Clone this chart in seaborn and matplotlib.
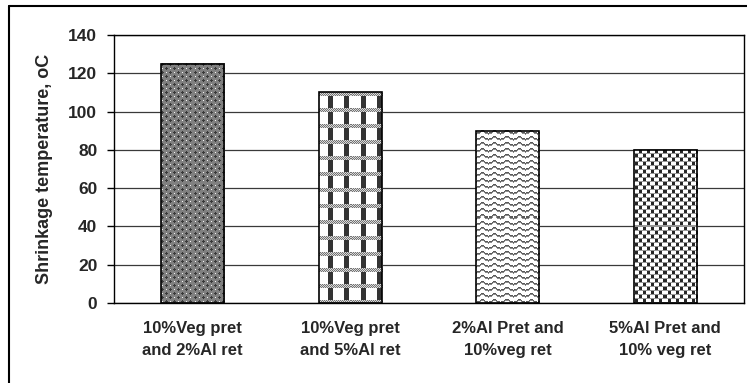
import matplotlib
matplotlib.use("Agg")
import matplotlib.pyplot as plt
from matplotlib.lines import Line2D
import seaborn as sns
import numpy as np

# data
categories = ["10%Veg pret\nand 2%Al ret", "10%Veg pret\nand 5%Al ret",
              "2%Al Pret and\n10%veg ret", "5%Al Pret and\n10% veg ret"]
temperatures = [125, 110, 90, 80]
y_ticks = [0, 20, 40, 60, 80, 100, 120, 140]


def tile_cross():
    t = np.full((8, 8), 0.5)
    for cy, cx in [(1, 1), (5, 5)]:
        t[cy, cx - 1:cx + 2] = 0.22
        t[cy - 1:cy + 2, cx] = 0.22
    t[1, 5] = 0.95
    t[5, 1] = 0.95
    return t


def tile_plaid():
    t = np.ones((16, 16))
    t[:, 9:14] = 0.2
    i, j = np.indices((4, 16))
    t[0:4, :] = np.where((i + j) % 2, 0.45, 0.85)
    return t


def tile_wave():
    t = np.ones((6, 12))
    for x in range(12):
        y = int(round(abs(x - 6) / 2.0))
        t[y, x] = 0.35
        t[min(y + 1, 5), x] = 0.55
    return t


def tile_spheres():
    t = np.ones((8, 8))
    t[0, :] = 0.6
    t[4, :] = 0.6
    t[1:4, 5:8] = 0.15
    t[5:8, 1:4] = 0.15
    return t


tiles = [tile_cross(), tile_plaid(), tile_wave(), tile_spheres()]

sns.set_style("white")
plt.rcParams["font.family"] = ["Liberation Sans", "DejaVu Sans"]
plt.rcParams["font.weight"] = "bold"

fig = plt.figure(figsize=(7.47, 3.83), dpi=100)
ax = fig.add_axes([0.1526, 0.2089, 0.8434, 0.6997])

sns.barplot(x=list(range(len(categories))), y=temperatures, width=0.4,
            color="white", edgecolor="black", linewidth=1.2, ax=ax)

ax.set_ylim(0, 140)
ax.set_xlim(-0.5, len(categories) - 0.5)
ax.set_yticks(y_ticks)
ax.set_yticklabels([str(v) for v in y_ticks], fontsize=12.5, fontweight="bold")
ax.set_xticks(range(len(categories)))
ax.set_xticklabels(categories, fontsize=12, fontweight="bold", linespacing=1.6)
ax.set_xticks(np.arange(-0.5, len(categories), 1.0), minor=True)
ax.tick_params(axis="x", which="major", length=0, pad=13)
ax.tick_params(axis="x", which="minor", length=5, width=1, direction="out", color="black")
ax.tick_params(axis="y", length=5, width=1, direction="out", color="black", pad=7, left=True)
ax.set_ylabel("Shrinkage temperature, oC", fontsize=13, fontweight="bold", labelpad=11)
ax.set_xlabel("")

ax.grid(axis="y", color="#3a3a3a", linewidth=0.9)
ax.grid(axis="x", visible=False)
ax.set_axisbelow(True)
for s in ax.spines.values():
    s.set_visible(True)
    s.set_color("black")
    s.set_linewidth(1.0)

# fill the bars with Excel-like textures
fig.canvas.draw()
for patch, tile in zip(ax.patches, tiles):
    bb = patch.get_window_extent()
    w, h = int(round(bb.width)), int(round(bb.height))
    reps = (h // tile.shape[0] + 1, w // tile.shape[1] + 1)
    tex = np.tile(tile, reps)[:h, :w]
    x0 = patch.get_x()
    ax.imshow(tex, extent=(x0, x0 + patch.get_width(), 0, patch.get_height()),
              cmap="gray", vmin=0, vmax=1, interpolation="nearest",
              aspect="auto", zorder=1.5)
    patch.set_facecolor("none")
    patch.set_zorder(2)

ax.set_xlim(-0.5, len(categories) - 0.5)
ax.set_ylim(0, 140)

# outer chart frame
fig.add_artist(Line2D([0.012, 0.012], [0, 0.984], color="black", lw=1.5))
fig.add_artist(Line2D([0.012, 1.0], [0.984, 0.984], color="black", lw=1.5))

fig.savefig("out.png", dpi=100)
